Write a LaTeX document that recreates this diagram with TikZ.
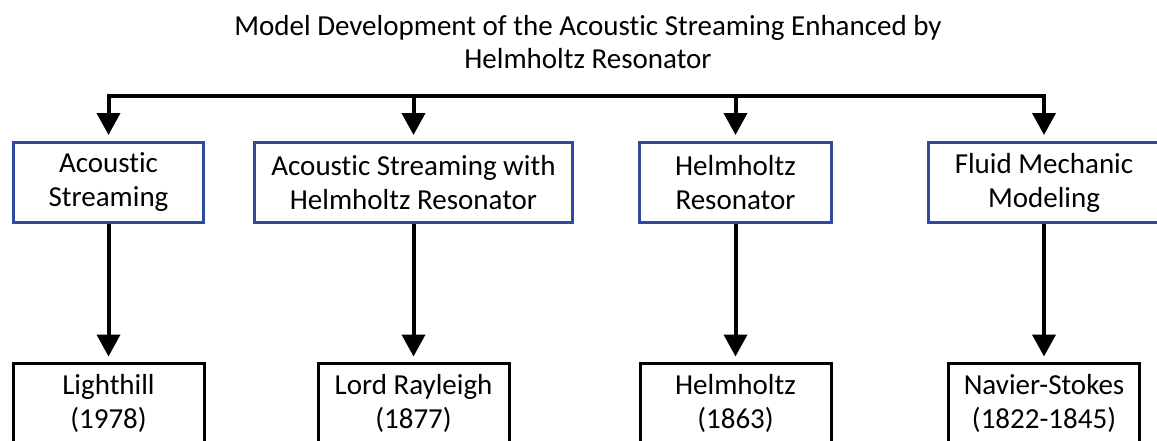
\documentclass[tikz,border=0pt]{standalone}
\usepackage{fontspec}
\setmainfont{Carlito}[Ligatures={NoCommon}]
\usetikzlibrary{arrows.meta}
\definecolor{boxblue}{RGB}{45,75,160}
\begin{document}
\begin{tikzpicture}[x=1pt,y=-1pt,
  box/.style={draw, line width=3pt, align=center, inner sep=0pt, minimum height=80pt, font=\fontsize{29}{34}\selectfont},
  topbox/.style={box, draw=boxblue},
  botbox/.style={box, draw=black, minimum width=191pt},
  bus/.style={line width=4pt, line cap=rect},
  conn/.style={line width=4pt, -{Triangle[width=23pt,length=22pt]}},
]
\useasboundingbox (0,0) rectangle (1157,440);
\clip (0,0) rectangle (1157,440);
\node[font=\fontsize{29}{33}\selectfont, align=center] (title) at (588,42)
  {Model Development of the Acoustic Streaming Enhanced by\\Helmholtz Resonator};
\node[topbox, minimum width=190pt] (a1) at (108.5,182.5) {Acoustic\\Streaming};
\node[topbox, minimum width=318pt] (a2) at (413.5,182.5) {Acoustic Streaming with\\Helmholtz Resonator};
\node[topbox, minimum width=192pt] (a3) at (735.5,182.5) {Helmholtz\\Resonator};
\node[topbox, minimum width=231pt] (a4) at (1044,182.5) {Fluid Mechanic\\Modeling};
\node[botbox] (b1) at (108.5,403) {Lighthill\\(1978)};
\node[botbox] (b2) at (413.5,403) {Lord Rayleigh\\(1877)};
\node[botbox] (b3) at (735.5,403) {Helmholtz\\(1863)};
\node[botbox] (b4) at (1044,403) {Navier-Stokes\\(1822-1845)};
\coordinate (busline) at (0,96);
\draw[bus] (a1.north |- busline) -- (a4.north |- busline);
\foreach \k in {1,2,3,4}{
  \draw[conn, shorten >=6pt] (a\k.north |- busline) -- (a\k.north);
  \draw[conn, shorten >=5pt] (a\k.south) -- (b\k.north);
}
\end{tikzpicture}
\end{document}
